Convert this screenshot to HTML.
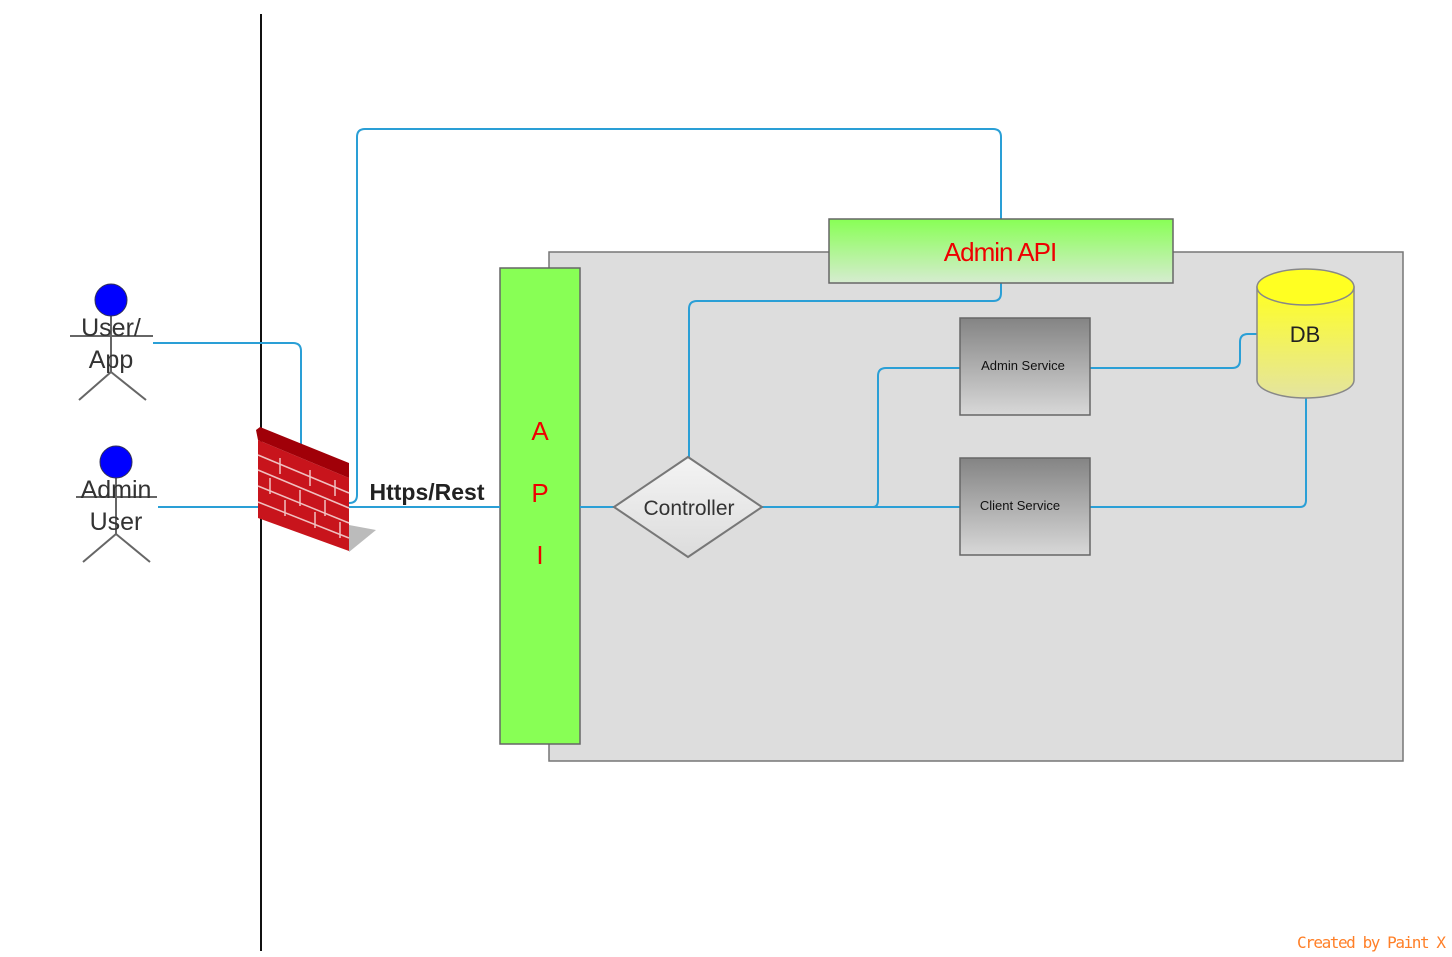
<!DOCTYPE html>
<html><head><meta charset="utf-8"><style>html,body{margin:0;padding:0;background:#fff;}svg{display:block}</style></head>
<body>
<svg width="1452" height="957" viewBox="0 0 1452 957" xmlns="http://www.w3.org/2000/svg" font-family="Liberation Sans, sans-serif">
<defs>
<linearGradient id="ga" x1="0" y1="0" x2="0" y2="1"><stop offset="0" stop-color="#88ff55"/><stop offset="1" stop-color="#d6ecd0"/></linearGradient>
<linearGradient id="gs" x1="0" y1="0" x2="0" y2="1"><stop offset="0" stop-color="#848484"/><stop offset="1" stop-color="#d8d8d8"/></linearGradient>
<linearGradient id="gd" x1="0" y1="0" x2="0" y2="1"><stop offset="0" stop-color="#ffff22"/><stop offset="1" stop-color="#e4e4a0"/></linearGradient>
<linearGradient id="gc" x1="0" y1="0" x2="0" y2="1"><stop offset="0" stop-color="#f4f4f4"/><stop offset="1" stop-color="#dcdcdc"/></linearGradient>
</defs>
<line x1="261" y1="14" x2="261" y2="951" stroke="#111" stroke-width="2"/>
<rect x="549" y="252" width="854" height="509" fill="#dddddd" stroke="#777" stroke-width="1.5"/>
<rect x="500" y="268" width="80" height="476" fill="#88ff55" stroke="#666" stroke-width="1.5"/>
<text x="540" y="440" font-size="26" fill="#e00" text-anchor="middle">A</text>
<text x="540" y="502" font-size="26" fill="#e00" text-anchor="middle">P</text>
<text x="540" y="564" font-size="26" fill="#e00" text-anchor="middle">I</text>
<g fill="none" stroke="#2a9fd6" stroke-width="2">
<path d="M349,503 Q357,503 357,495 L357,137 Q357,129 365,129 L993,129 Q1001,129 1001,137 L1001,219"/>
<path d="M1001,283 L1001,293 Q1001,301 993,301 L697,301 Q689,301 689,309 L689,457"/>
<path d="M153,343 L293,343 Q301,343 301,351 L301,447"/>
<path d="M158,507 L258,507"/>
<path d="M349,507 L500,507"/>
<path d="M580,507 L614,507"/>
<path d="M762,507 L960,507"/>
<path d="M873,507 Q878,507 878,500 L878,376 Q878,368 886,368 L960,368"/>
<path d="M1090,368 L1232,368 Q1240,368 1240,360 L1240,342 Q1240,334 1248,334 L1257,334"/>
<path d="M1090,507 L1300,507 Q1306,507 1306,500 L1306,398"/>
</g>
<rect x="829" y="219" width="344" height="64" fill="url(#ga)" stroke="#666" stroke-width="1.5"/>
<text x="1000" y="261" font-size="26" fill="#e00" text-anchor="middle" letter-spacing="-1">Admin API</text>
<polygon points="688,457 762,507 688,557 614,507" fill="url(#gc)" stroke="#777" stroke-width="2"/>
<text x="689" y="515" font-size="21" fill="#333" text-anchor="middle">Controller</text>
<rect x="960" y="318" width="130" height="97" fill="url(#gs)" stroke="#666" stroke-width="1.5"/>
<text x="1023" y="370" font-size="13" fill="#111" text-anchor="middle">Admin Service</text>
<rect x="960" y="458" width="130" height="97" fill="url(#gs)" stroke="#666" stroke-width="1.5"/>
<text x="1020" y="510" font-size="13" fill="#111" text-anchor="middle">Client Service</text>
<path d="M1257,287 L1257,380 A48.5,18 0 0 0 1354,380 L1354,287 Z" fill="url(#gd)" stroke="#888" stroke-width="1.5"/>
<ellipse cx="1305.5" cy="287" rx="48.5" ry="18" fill="#ffff22" stroke="#888" stroke-width="1.5"/>
<text x="1305" y="342" font-size="22" fill="#222" text-anchor="middle">DB</text>
<text x="427" y="500" font-size="23" font-weight="bold" fill="#222" text-anchor="middle">Https/Rest</text>
<polygon points="349,525 376,530 349,552" fill="#bbb"/>
<polygon points="258,440 349,478 349,551 258,518" fill="#c8141c"/>
<polygon points="256,430 260,427 349,463 349,478 258,440" fill="#a00008"/>
<g stroke="#f0c0c0" stroke-width="1.5" fill="none">
<path d="M258,455 L349,493 M258,470 L349,508 M258,486 L349,523 M258,502 L349,538"/>
<path d="M280,458 L280,474 M310,470 L310,486 M335,480 L335,496 M270,478 L270,494 M300,490 L300,506 M325,500 L325,516 M285,500 L285,516 M315,512 L315,528 M340,522 L340,538"/>
</g>
<g stroke="#666" stroke-width="2" fill="none">
<line x1="111" y1="316" x2="111" y2="372"/><line x1="70" y1="336" x2="153" y2="336"/>
<line x1="111" y1="372" x2="79" y2="400"/><line x1="111" y1="372" x2="146" y2="400"/>
<line x1="116" y1="478" x2="116" y2="534"/><line x1="76" y1="497" x2="157" y2="497"/>
<line x1="116" y1="534" x2="83" y2="562"/><line x1="116" y1="534" x2="150" y2="562"/>
</g>
<circle cx="111" cy="300" r="16" fill="#0000ff" stroke="#335" stroke-width="1"/>
<circle cx="116" cy="462" r="16" fill="#0000ff" stroke="#335" stroke-width="1"/>
<g font-size="25" fill="#333" text-anchor="middle">
<text x="111" y="336">User/</text><text x="111" y="368">App</text>
<text x="116" y="498">Admin</text><text x="116" y="530">User</text>
</g>
<text x="1446" y="948" font-size="16" fill="#ff7f27" text-anchor="end" font-family="DejaVu Sans Mono, Liberation Mono, monospace" textLength="149">Created by Paint X</text>
</svg>
</body></html>
